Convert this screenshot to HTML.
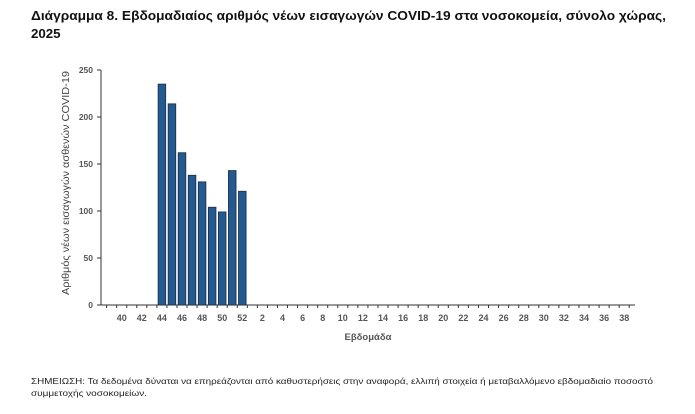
<!DOCTYPE html>
<html><head><meta charset="utf-8"><style>
body{margin:0;background:#fff;width:695px;height:409px;overflow:hidden;font-family:"Liberation Sans","DejaVu Sans",sans-serif;}
</style></head><body>
<svg width="695" height="409" xmlns="http://www.w3.org/2000/svg">
<text x="31" y="20" font-size="13.3" font-weight="bold" fill="#111" textLength="635" lengthAdjust="spacingAndGlyphs" font-family="Liberation Sans, sans-serif">Διάγραμμα 8. Εβδομαδιαίος αριθμός νέων εισαγωγών COVID-19 στα νοσοκομεία, σύνολο χώρας,</text>
<text x="31" y="38" font-size="13.3" font-weight="bold" fill="#111" font-family="Liberation Sans, sans-serif">2025</text>
<g font-size="8.5" font-weight="bold" fill="#555" text-anchor="end" font-family="Liberation Sans, sans-serif">
<text x="93" y="73">250</text><text x="93" y="120">200</text><text x="93" y="167">150</text><text x="93" y="214">100</text><text x="93" y="261">50</text><text x="93" y="308">0</text>
</g>
<g stroke="#333" stroke-width="1">
<line x1="101" y1="70" x2="101" y2="305"/>
<line x1="97" y1="70" x2="101" y2="70"/><line x1="97" y1="117" x2="101" y2="117"/><line x1="97" y1="164" x2="101" y2="164"/><line x1="97" y1="211" x2="101" y2="211"/><line x1="97" y1="258" x2="101" y2="258"/><line x1="97" y1="305" x2="101" y2="305"/>
<line x1="101" y1="305" x2="635" y2="305"/>
</g>
<g id="ticks" stroke="#333" stroke-width="1"></g>
<g id="bars" fill="#245a8f" stroke="#1a2d45" stroke-width="0.8"></g>
<g id="lbl" font-size="9" font-weight="bold" fill="#555" text-anchor="middle" font-family="Liberation Sans, sans-serif"></g>
<text x="0" y="0" transform="translate(69,183) rotate(-90)" font-size="10" fill="#444" text-anchor="middle" textLength="224" lengthAdjust="spacingAndGlyphs" font-family="Liberation Sans, sans-serif">Αριθμός νέων εισαγωγών ασθενών COVID-19</text>
<text x="368" y="340" font-size="9.5" font-weight="bold" fill="#555" text-anchor="middle" font-family="Liberation Sans, sans-serif">Εβδομάδα</text>
<text x="31" y="384" font-size="8" fill="#222" textLength="622" lengthAdjust="spacingAndGlyphs" font-family="Liberation Sans, sans-serif">ΣΗΜΕΙΩΣΗ: Τα δεδομένα δύναται να επηρεάζονται από καθυστερήσεις στην αναφορά, ελλιπή στοιχεία ή μεταβαλλόμενο εβδομαδιαίο ποσοστό</text>
<text x="31" y="396" font-size="8" fill="#222" textLength="116" lengthAdjust="spacingAndGlyphs" font-family="Liberation Sans, sans-serif">συμμετοχής νοσοκομείων.</text>
</svg>
<script>
var ns="http://www.w3.org/2000/svg";
function c(k){return 121.7+10.05*k;}
var t=document.getElementById("ticks"),b=document.getElementById("bars"),l=document.getElementById("lbl");
for(var k=-2;k<52;k++){var x=c(k)+5.02;if(x>101&&x<=636){var e=document.createElementNS(ns,"line");e.setAttribute("x1",x);e.setAttribute("x2",x);e.setAttribute("y1",305);e.setAttribute("y2",308);t.appendChild(e);}}
for(var k=0;k<=50;k+=2){var w=40+k;if(w>52)w-=52;var e=document.createElementNS(ns,"text");e.setAttribute("x",c(k));e.setAttribute("y",321);e.textContent=w;l.appendChild(e);}
var v=[235,214,162,138,131,104,99,143,121];
for(var i=0;i<9;i++){var e=document.createElementNS(ns,"rect");var h=v[i]*0.94;e.setAttribute("x",c(4+i)-3.8);e.setAttribute("width",7.6);e.setAttribute("y",305-h);e.setAttribute("height",h);b.appendChild(e);}
</script>
</body></html>
